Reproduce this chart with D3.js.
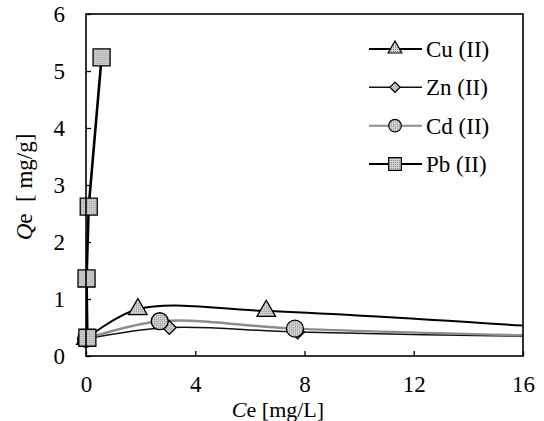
<!DOCTYPE html>
<html>
<head>
<meta charset="utf-8">
<script src="https://cdn.jsdelivr.net/npm/d3@7"></script>
<style>
  body { margin: 0; background: #fff; }
</style>
</head>
<body>
<svg id="chart" width="544" height="421"></svg>
<script>
// data
const cuCe = [0, 1.9, 6.6, 18];
const cuQe = [0.3, 0.82, 0.79, 0.47];
const znCe = [0, 3.05, 7.75, 18];
const znQe = [0.3, 0.5, 0.42, 0.33];
const cdCe = [0, 2.7, 7.65, 18];
const cdQe = [0.3, 0.61, 0.48, 0.34];
const pbCe = [0.05, 0.02, 0.1, 0.57];
const pbQe = [0.32, 1.36, 2.62, 5.24];

const seriesNames = ["Cu (II)", "Zn (II)", "Cd (II)", "Pb (II)"];
const xTicks = [0, 4, 8, 12, 16];
const yTicks = [0, 1, 2, 3, 4, 5, 6];

const FONT = '"Liberation Serif", "Times New Roman", serif';
const svg = d3.select("#chart");
const mLeft = 86, mRight = 523, mTop = 14, mBottom = 356;

const x = d3.scaleLinear().domain([0, 16]).range([mLeft, mRight]);
const y = d3.scaleLinear().domain([0, 6]).range([mBottom, mTop]);

const defs = svg.append("defs");
defs.append("clipPath").attr("id", "plotClip")
  .append("rect").attr("x", mLeft).attr("y", mTop)
  .attr("width", mRight - mLeft).attr("height", mBottom - mTop);

// stippled grey fill like the printed markers
const pat = defs.append("pattern").attr("id", "dots")
  .attr("width", 2).attr("height", 2).attr("patternUnits", "userSpaceOnUse");
pat.append("rect").attr("width", 2).attr("height", 2).attr("fill", "#d4d4d4");
pat.append("rect").attr("width", 1).attr("height", 1).attr("fill", "#8a8a8a");

const zip = (xs, ys) => xs.map((v, i) => ({ x: v, y: ys[i] }));

const series = [
  { name: seriesNames[0], pts: zip(cuCe, cuQe), marker: d3.symbolTriangle, size: 150, rot: 0, stroke: "#000", width: 2 },
  { name: seriesNames[1], pts: zip(znCe, znQe), marker: d3.symbolSquare, size: 95, rot: 45, stroke: "#111", width: 1.5 },
  { name: seriesNames[2], pts: zip(cdCe, cdQe), marker: d3.symbolCircle, size: 225, rot: 0, stroke: "#8c8c8c", width: 2.4 },
  { name: seriesNames[3], pts: zip(pbCe, pbQe), marker: d3.symbolSquare, size: 290, rot: 0, stroke: "#000", width: 2.6 }
];

const line = d3.line().x(d => x(d.x)).y(d => y(d.y)).curve(d3.curveCatmullRom.alpha(0.5));
const pbLine = d3.line().x(d => x(d.x)).y(d => y(d.y));

const plot = svg.append("g").attr("clip-path", "url(#plotClip)");

series.forEach(s => {
  plot.append("path")
    .attr("d", s.name === "Pb (II)" ? pbLine(s.pts) : line(s.pts))
    .attr("fill", "none")
    .attr("stroke", s.stroke)
    .attr("stroke-width", s.width);
});

series.forEach(s => {
  svg.append("g").selectAll("path")
    .data(s.pts.filter(d => d.x <= 16))
    .join("path")
    .attr("transform", d => `translate(${x(d.x)},${y(d.y)}) rotate(${s.rot})`)
    .attr("d", d3.symbol().type(s.marker).size(s.size))
    .attr("fill", "url(#dots)")
    .attr("stroke", "#000")
    .attr("stroke-width", 1.3);
});

// frame
svg.append("rect").attr("x", mLeft).attr("y", mTop)
  .attr("width", mRight - mLeft).attr("height", mBottom - mTop)
  .attr("fill", "none").attr("stroke", "#000").attr("stroke-width", 1.6);

// axes with inward ticks
const xAxis = d3.axisBottom(x).tickValues(xTicks).tickFormat(d3.format("d")).tickSize(-5).tickPadding(20);
const gx = svg.append("g").attr("transform", `translate(0,${mBottom})`).call(xAxis);
const yAxis = d3.axisLeft(y).tickValues(yTicks).tickFormat(d3.format("d")).tickSize(-5).tickPadding(21);
const gy = svg.append("g").attr("transform", `translate(${mLeft},0)`).call(yAxis);
[gx, gy].forEach(g => {
  g.attr("font-family", FONT).attr("font-size", 23);
  g.select(".domain").remove();
  g.selectAll("line").attr("stroke", "#000").attr("stroke-width", 1.3);
  g.selectAll("text").style("font-family", FONT).style("font-size", "23px").attr("fill", "#000");
});

// axis titles
const xt = svg.append("text").attr("x", 278).attr("y", 417)
  .attr("text-anchor", "middle").style("font-family", FONT).style("font-size", "22px");
xt.append("tspan").attr("font-style", "italic").text("C");
xt.append("tspan").text("e [mg/L]");

const yt = svg.append("text")
  .attr("transform", "translate(32,187) rotate(-90)")
  .attr("text-anchor", "middle").style("font-family", FONT).style("font-size", "23px");
yt.append("tspan").attr("font-style", "italic").text("Q");
yt.append("tspan").text("e \u00a0[ mg/g]");

// legend
const legY = d3.scalePoint().domain(seriesNames).range([49, 164]);
const leg = svg.append("g").selectAll("g").data(series).join("g")
  .attr("transform", d => `translate(0,${legY(d.name)})`);
leg.append("line").attr("x1", 369).attr("x2", 422)
  .attr("stroke", d => d.stroke).attr("stroke-width", d => Math.min(d.width, 2));
leg.append("path")
  .attr("transform", d => `translate(395,0) rotate(${d.rot})`)
  .attr("d", d => d3.symbol().type(d.marker).size(d.size * 0.55)())
  .attr("fill", "url(#dots)").attr("stroke", "#000").attr("stroke-width", 1.2);
leg.append("text").attr("x", 426).attr("y", 8)
  .style("font-family", FONT).style("font-size", "23px").text(d => d.name);
</script>
</body>
</html>
